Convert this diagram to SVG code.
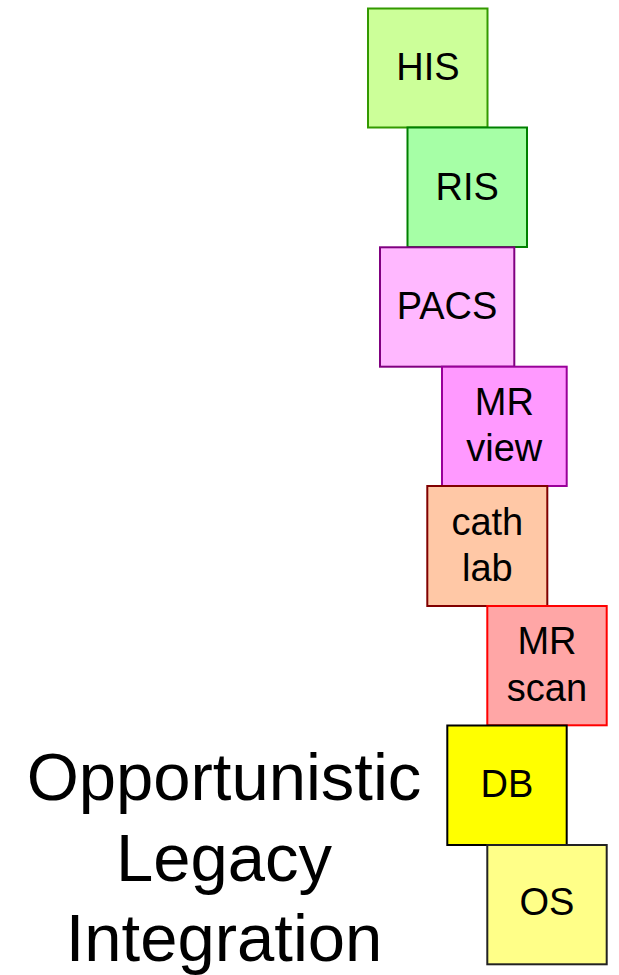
<svg xmlns="http://www.w3.org/2000/svg" width="619" height="975" viewBox="0 0 619 975">
<style>
.box rect{stroke-width:2}
.lbl{font-family:"Liberation Sans",Arial,sans-serif;font-size:38px;fill:#000;text-anchor:middle}
.title{font-family:"Liberation Sans",Arial,sans-serif;font-size:67px;fill:#000;text-anchor:middle}
</style>
<rect width="619" height="975" fill="#fff"/>
<g id="connectors"></g>
<g id="his" class="box"><rect x="368" y="8.5" width="119.5" height="119" fill="#CCFF99" stroke="#339900"/><text class="lbl" x="428" y="80">HIS</text></g>
<g id="ris" class="box"><rect x="407.5" y="127.5" width="119.5" height="119.5" fill="#A6FFA6" stroke="#008000"/><text class="lbl" x="467.3" y="200">RIS</text></g>
<g id="pacs" class="box"><rect x="380" y="247.3" width="134.3" height="119.4" fill="#FFB8FF" stroke="#800080"/><text class="lbl" x="447" y="319">PACS</text></g>
<g id="mrview" class="box"><rect x="442" y="366.7" width="124.7" height="119.3" fill="#FF99FF" stroke="#990099"/><text class="lbl" x="504.3" y="415">MR</text><text class="lbl" x="504.3" y="460.5">view</text></g>
<g id="cathlab" class="box"><rect x="427.3" y="486" width="120" height="120" fill="#FFC8A6" stroke="#800000"/><text class="lbl" x="487.3" y="535">cath</text><text class="lbl" x="487.3" y="581">lab</text></g>
<g id="mrscan" class="box"><rect x="487.3" y="606" width="119.4" height="119.3" fill="#FFA6A6" stroke="#FF0000"/><text class="lbl" x="547" y="654">MR</text><text class="lbl" x="547" y="700.5">scan</text></g>
<g id="db" class="box"><rect x="447.3" y="725.5" width="119.4" height="119.5" fill="#FFFF00" stroke="#000"/><text class="lbl" x="507" y="797">DB</text></g>
<g id="os" class="box"><rect x="487.3" y="845" width="119.4" height="119.3" fill="#FFFF88" stroke="#222"/><text class="lbl" x="547" y="915">OS</text></g>
<g id="title"><text class="title" x="224" y="800">Opportunistic</text><text class="title" x="224" y="881">Legacy</text><text class="title" x="224" y="961">Integration</text></g>
</svg>
